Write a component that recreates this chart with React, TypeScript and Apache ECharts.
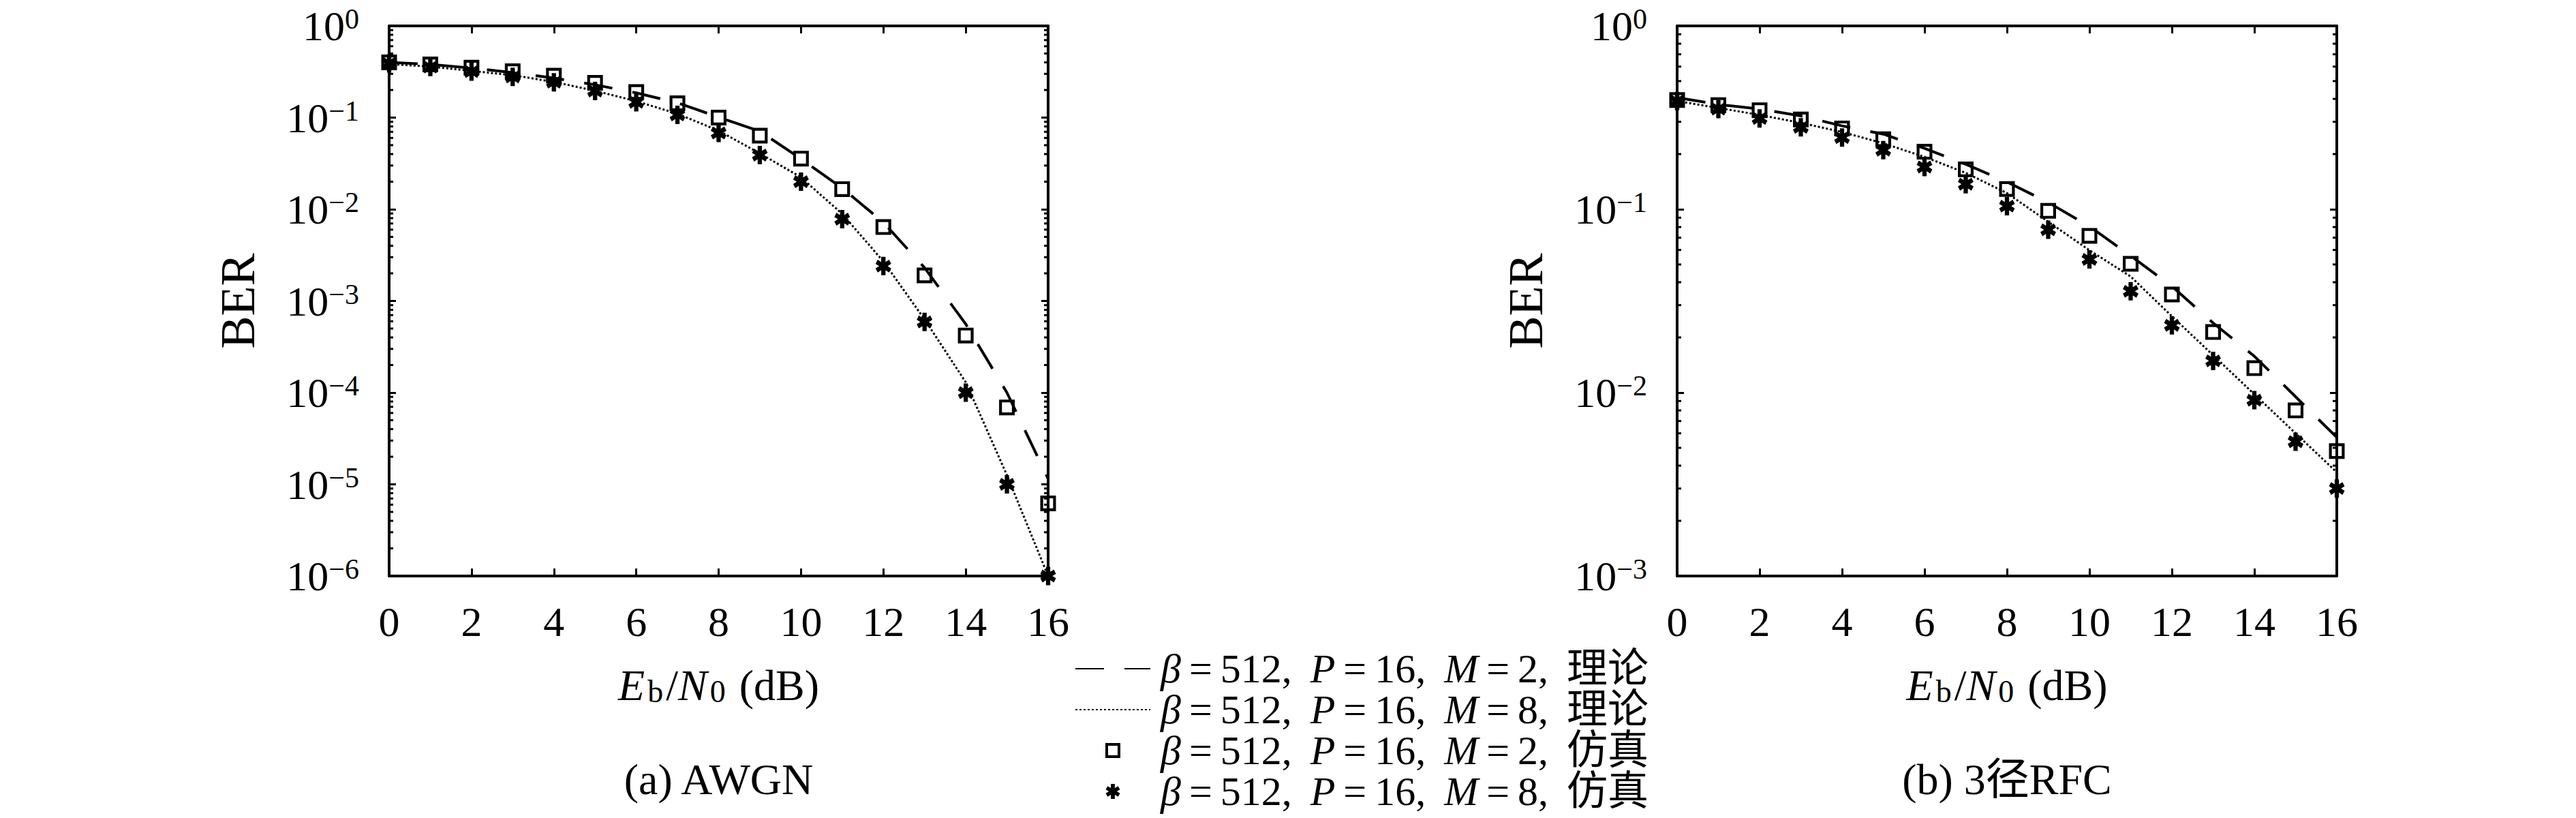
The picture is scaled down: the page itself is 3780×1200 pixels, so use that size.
import React, { useEffect, useRef } from "react";
import * as echarts from "echarts";

// ---------- data ----------
const SNR = [0, 1, 2, 3, 4, 5, 6, 7, 8, 9, 10, 11, 12, 13, 14, 15, 16];

const AWGN_THEORY_M2 = [0.40, 0.38, 0.347, 0.31, 0.27, 0.228, 0.186, 0.145, 0.101, 0.071, 0.0355, 0.017, 0.0072, 0.0023, 5.6e-4, 1.0e-4, 1.15e-5];
const AWGN_THEORY_M8 = [0.384, 0.36, 0.323, 0.29, 0.245, 0.196, 0.151, 0.11, 0.072, 0.0407, 0.0223, 0.0089, 0.0027, 6.3e-4, 1.3e-4, 1.26e-5, 1.0e-6];
const AWGN_SIM_M2 = [0.40, 0.38, 0.35, 0.32, 0.286, 0.239, 0.19, 0.143, 0.10, 0.0635, 0.0357, 0.0166, 0.0064, 0.0019, 4.2e-4, 6.9e-5, 6.2e-6];
const AWGN_SIM_M8 = [0.39, 0.356, 0.318, 0.278, 0.243, 0.195, 0.147, 0.107, 0.068, 0.039, 0.020, 0.0078, 0.0024, 5.9e-4, 1.0e-4, 1.0e-5, 1.0e-6];

const RFC_THEORY_M2 = [0.406, 0.373, 0.352, 0.323, 0.285, 0.257, 0.215, 0.176, 0.141, 0.109, 0.0807, 0.0557, 0.038, 0.024, 0.0158, 0.0095, 0.0057];
const RFC_THEORY_M8 = [0.389, 0.357, 0.327, 0.296, 0.264, 0.229, 0.193, 0.158, 0.1225, 0.0855, 0.0598, 0.043, 0.0261, 0.016, 0.0098, 0.006, 0.00368];
const RFC_SIM_M2 = [0.394, 0.37, 0.347, 0.309, 0.276, 0.241, 0.206, 0.165, 0.129, 0.098, 0.0716, 0.0504, 0.0343, 0.0214, 0.0136, 0.0080, 0.0048];
const RFC_SIM_M8 = [0.389, 0.352, 0.313, 0.28, 0.246, 0.21, 0.17, 0.137, 0.104, 0.0773, 0.0533, 0.0357, 0.0233, 0.0149, 0.0091, 0.0054, 0.0030];

const LEGEND_NAMES = [
  "β=512, P=16, M=2, 理论",
  "β=512, P=16, M=8, 理论",
  "β=512, P=16, M=2, 仿真",
  "β=512, P=16, M=8, 仿真",
];
const SUBTITLES = ["(a) AWGN", "(b) 3径RFC"];
const X_RANGE = [0, 16];
const X_INTERVAL = 2;
const Y_RANGES = [
  [1e-6, 1],
  [1e-3, 1],
];
const MINOR_FACTORS = [2, 3, 4, 5, 6, 7, 8, 9];

// ---------- styling ----------
const FONT = "'Liberation Serif', 'Noto Sans CJK SC', serif";
const GRIDS = [
  { left: 571, top: 38, width: 967, height: 807 },
  { left: 2461, top: 38, width: 968, height: 807 },
];

const HOLLOW_SQUARE = "path://M0 0L22 0L22 22L0 22ZM4 4L4 18L18 18L18 4Z";

function asteriskPath(): string {
  const bars: [number, number][] = [
    [90, 10],
    [30, 9.5],
    [150, 9.5],
  ];
  const w = 2.6;
  let d = "";
  for (const [deg, r] of bars) {
    const t = (deg * Math.PI) / 180;
    const dx = Math.cos(t);
    const dy = Math.sin(t);
    const nx = -dy;
    const ny = dx;
    const pts = [
      [r * dx + w * nx, r * dy + w * ny],
      [r * dx - w * nx, r * dy - w * ny],
      [-r * dx - w * nx, -r * dy - w * ny],
      [-r * dx + w * nx, -r * dy + w * ny],
    ];
    d += "M" + pts.map((p) => p[0].toFixed(3) + " " + p[1].toFixed(3)).join("L") + "Z";
  }
  return "path://" + d;
}

function yLabel(v: number): string {
  const e = Math.round(Math.log10(v));
  const s = e < 0 ? "−" + -e : String(e);
  return "{b|10}{s|" + s + "}";
}

function legendLabel(name: string): string {
  return name.replace(/β|P|M|=|,/g, (m) => {
    if (m === "=") return "{e|=}";
    if (m === ",") return "{c|,}";
    return "{i|" + m + "}";
  });
}

function buildOption() {
  const star = asteriskPath();
  const lineW = 4;
  const axisLineStyle = { color: "#000", width: lineW };
  const tickStyle = { color: "#000", width: 3 };

  const xAxis: any[] = [];
  const yAxis: any[] = [];
  const series: any[] = [];
  const grid: any[] = [];

  const datasets = [
    [AWGN_THEORY_M2, AWGN_THEORY_M8, AWGN_SIM_M2, AWGN_SIM_M8],
    [RFC_THEORY_M2, RFC_THEORY_M8, RFC_SIM_M2, RFC_SIM_M8],
  ];

  GRIDS.forEach((g, gi) => {
    grid.push({ ...g, containLabel: false, outerBoundsMode: "none" });
    xAxis.push({
      gridIndex: gi,
      type: "value",
      min: X_RANGE[0],
      max: X_RANGE[1],
      interval: X_INTERVAL,
      position: "bottom",
      axisLine: { show: true, onZero: false, lineStyle: axisLineStyle },
      axisTick: { show: true, inside: true, length: 11, lineStyle: tickStyle },
      axisLabel: { margin: 36, fontSize: 62, fontFamily: FONT, color: "#000" },
      splitLine: { show: false },
      name: "{i|E}{s|b}/{i|N}{s|0} (dB)",
      nameLocation: "middle",
      nameGap: 128,
      nameMoveOverlap: false,
      nameTextStyle: {
        fontSize: 64,
        lineHeight: 64,
        fontFamily: FONT,
        color: "#000",
        rich: {
          i: { fontSize: 64, lineHeight: 64, fontStyle: "italic", fontFamily: FONT, color: "#000", padding: [0, 4, 0, 0] },
          s: { fontSize: 46, lineHeight: 24, verticalAlign: "bottom", fontFamily: FONT, color: "#000", padding: [0, 4, 0, 0] },
        },
      },
    });
    xAxis.push({
      gridIndex: gi,
      type: "value",
      min: X_RANGE[0],
      max: X_RANGE[1],
      interval: X_INTERVAL,
      position: "top",
      axisLine: { show: true, onZero: false, lineStyle: axisLineStyle },
      axisTick: { show: true, inside: true, length: 11, lineStyle: tickStyle },
      axisLabel: { show: false },
      splitLine: { show: false },
    });
    yAxis.push({
      gridIndex: gi,
      type: "log",
      logBase: 10,
      min: Y_RANGES[gi][0],
      max: Y_RANGES[gi][1],
      position: "left",
      axisLine: { show: true, onZero: false, lineStyle: axisLineStyle },
      axisTick: { show: true, inside: true, length: 10, lineStyle: tickStyle },
      minorTick: { show: false },
      splitLine: { show: false },
      axisLabel: {
        margin: 44,
        formatter: yLabel,
        color: "#000",
        rich: {
          b: { fontSize: 62, lineHeight: 62, fontFamily: FONT, color: "#000" },
          s: { fontSize: 42, lineHeight: 30, verticalAlign: "top", fontFamily: FONT, color: "#000" },
        },
      },
      name: "BER",
      nameLocation: "middle",
      nameGap: 186,
      nameMoveOverlap: false,
      nameTextStyle: { fontSize: 72, fontFamily: FONT, color: "#000" },
    });
    yAxis.push({
      gridIndex: gi,
      type: "log",
      logBase: 10,
      min: Y_RANGES[gi][0],
      max: Y_RANGES[gi][1],
      position: "right",
      axisLine: { show: true, onZero: false, lineStyle: axisLineStyle },
      axisTick: { show: true, inside: true, length: 10, lineStyle: tickStyle },
      minorTick: { show: false },
      splitLine: { show: false },
      axisLabel: { show: false },
    });

    const xi = gi * 2;
    const yi = gi * 2;
    const [thM2, thM8, simM2, simM8] = datasets[gi];

    const minorVals: number[][] = [];
    const e0 = Math.round(Math.log10(Y_RANGES[gi][0]));
    const e1 = Math.round(Math.log10(Y_RANGES[gi][1]));
    for (let e = e0; e < e1; e++) {
      for (const f of MINOR_FACTORS) minorVals.push([0, f * Math.pow(10, e)]);
    }
    series.push({
      type: "custom",
      xAxisIndex: xi,
      yAxisIndex: yi,
      silent: true,
      z: 1,
      clip: false,
      data: minorVals,
      renderItem: (params: any, api: any) => {
        const y = api.coord([0, api.value(1)])[1];
        const cs = params.coordSys;
        const len = 6;
        return {
          type: "group",
          children: [
            { type: "line", shape: { x1: cs.x, y1: y, x2: cs.x + len, y2: y }, style: { stroke: "#000", lineWidth: 3 } },
            {
              type: "line",
              shape: { x1: cs.x + cs.width - len, y1: y, x2: cs.x + cs.width, y2: y },
              style: { stroke: "#000", lineWidth: 3 },
            },
          ],
        };
      },
    });

    series.push({
      type: "line",
      name: LEGEND_NAMES[0],
      xAxisIndex: xi,
      yAxisIndex: yi,
      data: SNR.map((x, i) => [x, thM2[i]]),
      symbol: "none",
      showSymbol: false,
      lineStyle: { color: "#000", width: 4, type: [42, 30] },
      itemStyle: { color: "#000" },
      z: 2,
    });
    series.push({
      type: "line",
      name: LEGEND_NAMES[1],
      xAxisIndex: xi,
      yAxisIndex: yi,
      data: SNR.map((x, i) => [x, thM8[i]]),
      symbol: "none",
      showSymbol: false,
      lineStyle: { color: "#000", width: 3, type: [3, 3] },
      itemStyle: { color: "#000" },
      z: 2,
    });
    series.push({
      type: "scatter",
      name: LEGEND_NAMES[2],
      xAxisIndex: xi,
      yAxisIndex: yi,
      data: SNR.map((x, i) => [x, simM2[i]]),
      symbol: HOLLOW_SQUARE,
      symbolSize: 23,
      clip: false,
      itemStyle: { color: "#000", opacity: 1 },
      z: 3,
    });
    series.push({
      type: "scatter",
      name: LEGEND_NAMES[3],
      xAxisIndex: xi,
      yAxisIndex: yi,
      data: SNR.map((x, i) => [x, simM8[i]]),
      symbol: star,
      symbolSize: [23, 27],
      clip: false,
      itemStyle: { color: "#000", opacity: 1 },
      z: 4,
    });
  });

  const legendItemFont = { fontSize: 60, lineHeight: 58, fontFamily: FONT, color: "#000" };

  return {
    animation: false,
    backgroundColor: "#fff",
    grid,
    xAxis,
    yAxis,
    series,
    legend: {
      data: [
        { name: LEGEND_NAMES[0], itemStyle: { opacity: 0 } },
        { name: LEGEND_NAMES[1], itemStyle: { opacity: 0 } },
        { name: LEGEND_NAMES[2] },
        { name: LEGEND_NAMES[3] },
      ],
      orient: "vertical",
      left: 1577,
      top: 951,
      padding: 0,
      itemGap: 0,
      itemWidth: 110,
      itemHeight: 22,
      selectedMode: false,
      formatter: legendLabel,
      textStyle: {
        ...legendItemFont,
        padding: [0, 0, 0, 10],
        rich: {
          i: { ...legendItemFont, fontStyle: "italic" },
          e: { ...legendItemFont, padding: [0, 12, 0, 12] },
          c: { ...legendItemFont, padding: [0, 12, 0, 0] },
        },
      },
    },
    graphic: SUBTITLES.map((t, gi) => ({
      type: "text",
      x: GRIDS[gi].left + GRIDS[gi].width / 2,
      y: 1143,
      style: {
        text: t,
        fontSize: 64,
        fontFamily: FONT,
        fill: "#000",
        align: "center",
        verticalAlign: "middle",
        textAlign: "center",
        textVerticalAlign: "middle",
      },
    })),
  };
}

export default function App() {
  const ref = useRef<HTMLDivElement | null>(null);
  useEffect(() => {
    document.body.style.margin = "0";
    if (!ref.current) return;
    const chart = echarts.init(ref.current, undefined, { renderer: "svg" });
    chart.setOption(buildOption() as any);
    return () => {
      chart.dispose();
    };
  }, []);
  return (
    <div
      ref={ref}
      style={{ position: "fixed", left: 0, top: 0, width: 3780, height: 1200, background: "#fff" }}
    />
  );
}
